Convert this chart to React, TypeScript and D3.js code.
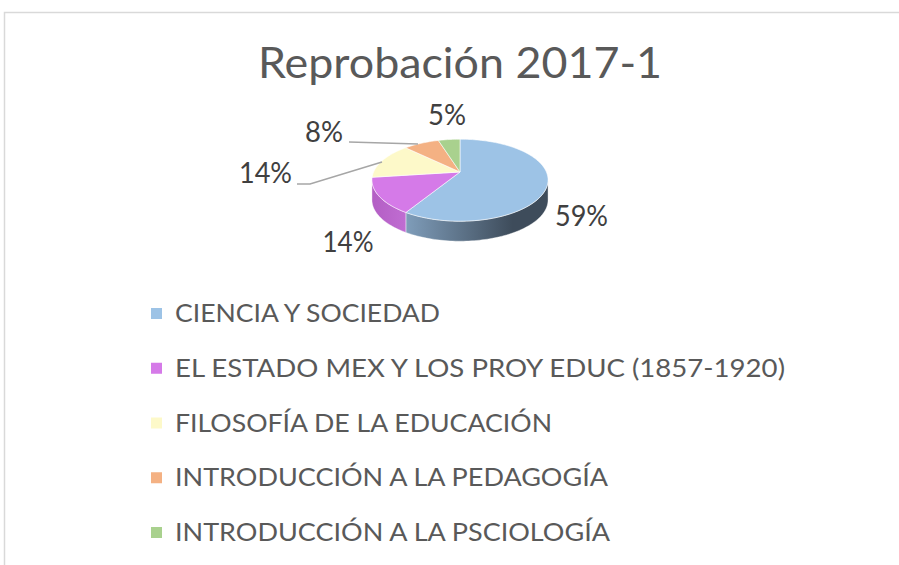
import React from 'react';
import * as d3 from 'd3';

const title = 'Reprobación 2017-1';
const categories = [
  'CIENCIA Y SOCIEDAD',
  'EL ESTADO MEX Y LOS PROY EDUC (1857-1920)',
  'FILOSOFÍA DE LA EDUCACIÓN',
  'INTRODUCCIÓN A LA PEDAGOGÍA',
  'INTRODUCCIÓN A LA PSCIOLOGÍA',
];
const values = [59, 14, 14, 8, 5];
const percentLabels = ['59%', '14%', '14%', '8%', '5%'];
const topColors = ['#9DC3E6', '#D57AE8', '#FDF9C9', '#F4B183', '#A9D18E'];
const wallLight = ['#7F9DBA', '#B35EC4', '#E3DFA8', '#D9996C', '#8FB777'];
const wallDark = ['#3E4C5B', '#C06DD2', '#C9C48E', '#C0855A', '#789F62'];

// layout (not data)
const W = 899;
const H = 565;
const CX = 460;
const CY = 172;
const RX = 86.4;
const RY = 41;
const PERSP = 0.2;
const DEPTH = 20;
const FONT = 'Lato, "Open Sans", sans-serif';

// label placement: [x center, baseline, width]
const labelPos: [number, number, number][] = [
  [581.5, 226, 53],
  [348, 252, 51],
  [265.5, 183, 53],
  [324, 142, 38],
  [447, 125, 38],
];
const legendTextW = [265, 610, 377, 433, 435];

export default function App() {
  const pie = d3.pie<number>().sort(null).value((d) => d);
  const arcs = pie(values);

  const sx = d3.scaleLinear().domain([-1, 1]).range([CX - RX, CX + RX]);
  const sy = d3.scaleLinear().domain([-1, 1]).range([CY - RY, CY + RY]);
  const pt = (a: number, dz = 0): [number, number] => {
    const u = Math.sin(a);
    const v = -Math.cos(a);
    const f = 1 + PERSP * v;
    return [sx(u * f), sy(v * f) + dz];
  };

  // silhouette angles (extreme x on the projected rim)
  const angs = d3.range(0, 721).map((i) => (i / 720) * 2 * Math.PI);
  const aRight = angs[d3.maxIndex(angs, (a) => pt(a)[0])];
  const aLeft = angs[d3.minIndex(angs, (a) => pt(a)[0])];

  const sample = (a0: number, a1: number, dz = 0) => {
    const n = Math.max(2, Math.ceil(((a1 - a0) / (2 * Math.PI)) * 240));
    return d3.range(n + 1).map((i) => pt(a0 + ((a1 - a0) * i) / n, dz));
  };

  const line = d3.line<[number, number]>();

  const tops = arcs.map((a) => {
    const apex: [number, number] = [sx(0), sy(0)];
    return line([apex, ...sample(a.startAngle, a.endAngle), apex]) + 'Z';
  });

  const walls = arcs.map((a, i) => {
    const s = Math.max(a.startAngle, aRight);
    const e = Math.min(a.endAngle, aLeft);
    if (e <= s) return null;
    const topPts = sample(s, e);
    const botPts = sample(s, e, DEPTH).reverse();
    const x0 = d3.min(topPts, (p) => p[0])!;
    const x1 = d3.max(topPts, (p) => p[0])!;
    return { d: line([...topPts, ...botPts]) + 'Z', x0, x1, i };
  });

  const legendY = d3.scaleLinear().domain([0, categories.length - 1]).range([322, 541]);

  return (
    <svg
      width={W}
      height={H}
      style={{ position: 'absolute', left: 0, top: 0, background: '#fff' }}
      fontFamily={FONT}
    >
      <defs>
        {walls.map((w) =>
          w ? (
            <linearGradient
              key={w.i}
              id={`wg${w.i}`}
              gradientUnits="userSpaceOnUse"
              x1={w.x0}
              x2={w.i === 0 ? w.x0 + (w.x1 - w.x0) * 0.75 : w.x1}
              y1={0}
              y2={0}
            >
              <stop offset="0" stopColor={wallLight[w.i]} />
              <stop offset="1" stopColor={wallDark[w.i]} />
            </linearGradient>
          ) : null
        )}
      </defs>
      <rect x={4.5} y={12.5} width={W} height={H} fill="#fff" stroke="#d9d9d9" strokeWidth={1.5} />
      <text x={460} y={78} textAnchor="middle" fontSize={42} fill="#595959" textLength={404} lengthAdjust="spacingAndGlyphs">
        {title}
      </text>

      {walls.map((w) =>
        w ? (
          <path key={`w${w.i}`} d={w.d} fill={`url(#wg${w.i})`} stroke="#ffffff" strokeOpacity={0.5} strokeWidth={0.8} />
        ) : null
      )}
      {tops.map((d, i) => (
        <path key={`t${i}`} d={d} fill={topColors[i]} stroke="#ffffff" strokeOpacity={0.7} strokeWidth={0.8} />
      ))}

      <polyline points="297,184 310,184 382,162" fill="none" stroke="#a6a6a6" strokeWidth={1.5} />
      <polyline points="349,142 418,144" fill="none" stroke="#a6a6a6" strokeWidth={1.5} />

      {percentLabels.map((t, i) => (
        <text
          key={`l${i}`}
          x={labelPos[i][0]}
          y={labelPos[i][1]}
          textAnchor="middle"
          fontSize={29}
          fill="#404040"
          textLength={labelPos[i][2]}
          lengthAdjust="spacingAndGlyphs"
        >
          {t}
        </text>
      ))}

      {categories.map((c, i) => (
        <g key={`g${i}`}>
          <rect x={151} y={legendY(i) - 14} width={11} height={11} fill={topColors[i]} />
          <text
            x={175}
            y={legendY(i)}
            fontSize={25}
            fill="#595959"
            textLength={legendTextW[i]}
            lengthAdjust="spacingAndGlyphs"
          >
            {c}
          </text>
        </g>
      ))}
    </svg>
  );
}
